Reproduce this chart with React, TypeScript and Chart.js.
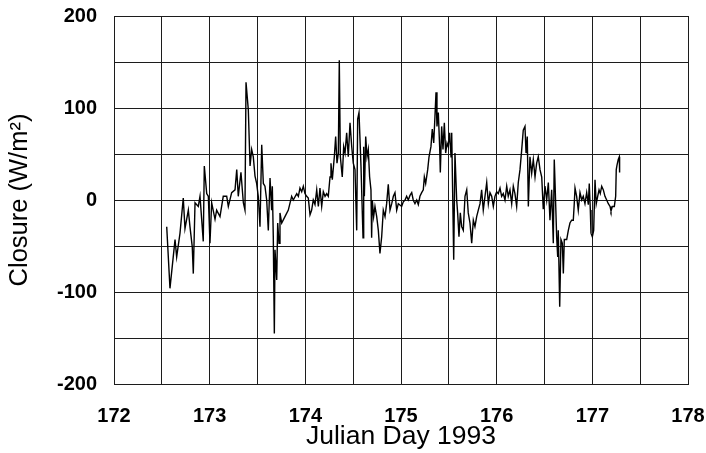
import React, { useEffect, useRef } from "react";
import { Chart, registerables } from "chart.js";

Chart.register(...registerables);

const days: number[] = [
  172.551, 172.585, 172.638, 172.655, 172.69, 172.724, 172.742, 172.777, 172.794, 172.818,
  172.829, 172.847, 172.881, 172.899, 172.933, 172.944, 172.969, 172.986, 173.003, 173.021,
  173.056, 173.073, 173.108, 173.142, 173.178, 173.195, 173.23, 173.265, 173.283, 173.299,
  173.327, 173.352, 173.369, 173.38, 173.404, 173.422, 173.439, 173.456, 173.474, 173.491,
  173.508, 173.526, 173.544, 173.561, 173.578, 173.596, 173.613, 173.631, 173.648, 173.655,
  173.665, 173.676, 173.683, 173.701, 173.711, 173.725, 173.735, 173.753, 173.787, 173.822,
  173.857, 173.874, 173.91, 173.927, 173.944, 173.962, 173.979, 173.996, 174.014, 174.031,
  174.049, 174.066, 174.083, 174.101, 174.119, 174.136, 174.153, 174.171, 174.188, 174.206,
  174.223, 174.24, 174.258, 174.268, 174.282, 174.303, 174.317, 174.331, 174.345, 174.355,
  174.366, 174.386, 174.401, 174.415, 174.432, 174.449, 174.467, 174.485, 174.501, 174.519,
  174.537, 174.547, 174.561, 174.582, 174.603, 174.61, 174.617, 174.631, 174.645, 174.658,
  174.672, 174.686, 174.693, 174.7, 174.714, 174.728, 174.746, 174.763, 174.78, 174.798,
  174.815, 174.833, 174.85, 174.867, 174.885, 174.903, 174.92, 174.937, 174.955, 174.972,
  175.007, 175.024, 175.042, 175.059, 175.076, 175.094, 175.112, 175.128, 175.146, 175.164,
  175.181, 175.198, 175.216, 175.233, 175.244, 175.258, 175.279, 175.293, 175.313, 175.327,
  175.342, 175.355, 175.366, 175.376, 175.39, 175.404, 175.411, 175.425, 175.439, 175.453,
  175.467, 175.481, 175.494, 175.509, 175.523, 175.53, 175.54, 175.551, 175.564, 175.582,
  175.592, 175.606, 175.62, 175.634, 175.651, 175.669, 175.687, 175.703, 175.721, 175.739,
  175.756, 175.773, 175.791, 175.808, 175.826, 175.843, 175.86, 175.878, 175.896, 175.913,
  175.93, 175.948, 175.965, 175.982, 176.0, 176.017, 176.035, 176.052, 176.069, 176.087,
  176.105, 176.121, 176.139, 176.157, 176.174, 176.191, 176.209, 176.226, 176.244, 176.262,
  176.278, 176.296, 176.307, 176.32, 176.331, 176.348, 176.366, 176.383, 176.401, 176.418,
  176.435, 176.453, 176.471, 176.487, 176.505, 176.523, 176.54, 176.557, 176.575, 176.592,
  176.602, 176.61, 176.627, 176.638, 176.644, 176.659, 176.672, 176.686, 176.697, 176.707,
  176.732, 176.749, 176.766, 176.784, 176.801, 176.811, 176.819, 176.836, 176.853, 176.871,
  176.889, 176.905, 176.923, 176.941, 176.958, 176.968, 176.979, 176.986, 177.0, 177.014,
  177.028, 177.041, 177.056, 177.07, 177.083, 177.098, 177.115, 177.132, 177.15, 177.167,
  177.185, 177.195, 177.209, 177.23, 177.244, 177.25, 177.258, 177.271, 177.282, 177.285,
];

const closure: number[] = [
  -29, -96, -43, -62, -36, 2, -31, -11, -29, -51,
  -80, -3, -7, 4, -45, 37, 7, 4, -47, -3,
  -21, -11, -18, 4, 4, -7, 8, 11, 33, 4,
  30, -3, -11, 128, 98, 37, 55, 47, 26, 18,
  4, -29, 60, 18, 15, 0, -33, 24, -11, 15,
  -40, -145, -54, -87, -25, -47, -14, -25, -18, -11,
  4, 0, 7, 4, 13, 9, 15, 7, 4, 2,
  -16, -11, 0, -5, 11, -7, 13, -7, 9, 4,
  7, 4, 25, 40, 22, 47, 69, 40, 51, 152,
  47, 25, 58, 51, 73, 47, 84, 58, 40, 33,
  -33, 88, 95, 36, -41, 58, 4, 69, 47, 55,
  25, 11, -41, 0, -18, -7, -18, -33, -58, -40,
  -11, -18, -4, 17, -11, -4, 4, 8, -11, -4,
  -7, -2, 0, 4, 0, 5, 8, 0, -4, 0,
  -5, 4, 8, 11, 25, 18, 33, 47, 58, 77,
  62, 91, 117, 80, 95, 58, 30, 80, 55, 84,
  51, 62, 58, 73, 47, 73, 8, -65, 51, 0,
  -14, -40, -14, -29, -33, 4, 11, -14, -25, -47,
  -22, -29, -18, -11, -4, 11, -11, 4, 19, -4,
  8, 4, -7, 4, 9, 7, 13, 4, 7, 0,
  15, 4, 11, -4, 15, 7, -7, 19, 33, 55,
  76, 80, 51, 69, -7, 47, 29, 44, 25, 40,
  47, 33, 25, -10, 15, 0, 19, -22, 11, -47,
  44, 19, -40, -62, -33, -116, -43, -47, -80, -43,
  -43, -33, -25, -22, -22, -4, 13, 4, -11, 8,
  0, 4, -4, 8, -5, 18, -11, -36, -40, -33,
  22, -4, 4, 11, 7, 15, 11, 4, 0, -4,
  -7, -12, -7, -7, 4, 33, 38, 44, 47, 30,
];

const xMin = 172;
const xMax = 178;
const yMin = -200;
const yMax = 200;
const xTitle = "Julian Day 1993";
const yTitle = "Closure (W/m²)";

const FONT = "'Liberation Sans', Arial, Helvetica, sans-serif";

export default function App() {
  const ref = useRef<HTMLCanvasElement | null>(null);

  useEffect(() => {
    if (!ref.current) return;
    const points = days.map((d, i) => ({ x: d, y: closure[i] }));
    const gridColor = "#1c1c1c";
    const chart = new Chart(ref.current, {
      type: "line",
      data: {
        datasets: [
          {
            data: points,
            borderColor: "#000",
            borderWidth: 1.4,
            pointRadius: 0,
            tension: 0,
            fill: false,
          },
        ],
      },
      options: {
        animation: false,
        responsive: false,
        maintainAspectRatio: false,
        layout: { padding: { top: 16, right: 18, left: 0, bottom: 0 } },
        plugins: { legend: { display: false }, tooltip: { enabled: false } },
        scales: {
          x: {
            type: "linear",
            min: xMin,
            max: xMax,
            afterFit: (s: any) => {
              s.height = 69;
            },
            grid: {
              color: gridColor,
              lineWidth: 1,
              drawTicks: true,
              tickLength: 20,
              tickColor: "rgba(0,0,0,0)",
            },
            border: { color: gridColor, width: 1 },
            ticks: {
              stepSize: 0.5,
              autoSkip: false,
              maxRotation: 0,
              padding: 0,
              color: "#000",
              font: { family: FONT, size: 20, weight: "bold" },
              callback: (v: any) => (Math.abs(v - Math.round(v)) < 1e-6 ? String(Math.round(v)) : ""),
            },
            title: {
              display: true,
              text: xTitle,
              color: "#000",
              font: { family: FONT, size: 26.5 },
              padding: { top: 0, bottom: 0 },
            },
          },
          y: {
            type: "linear",
            min: yMin,
            max: yMax,
            afterFit: (s: any) => {
              s.width = 114;
            },
            grid: {
              color: gridColor,
              lineWidth: 1,
              drawTicks: true,
              tickLength: 17,
              tickColor: "rgba(0,0,0,0)",
            },
            border: { color: gridColor, width: 1 },
            ticks: {
              stepSize: 50,
              autoSkip: false,
              padding: 0,
              color: "#000",
              font: { family: FONT, size: 20, weight: "bold" },
              callback: (v: any) => (Math.round(v) % 100 === 0 ? String(Math.round(v)) : ""),
            },
            title: {
              display: true,
              text: yTitle,
              color: "#000",
              font: { family: FONT, size: 25.5 },
              padding: { top: 5, bottom: 0 },
            },
          },
        },
      },
    });
    return () => chart.destroy();
  }, []);

  return (
    <div style={{ position: "absolute", left: 0, top: 0, width: 706, height: 453, background: "#fff" }}>
      <canvas ref={ref} width={706} height={453} />
    </div>
  );
}
